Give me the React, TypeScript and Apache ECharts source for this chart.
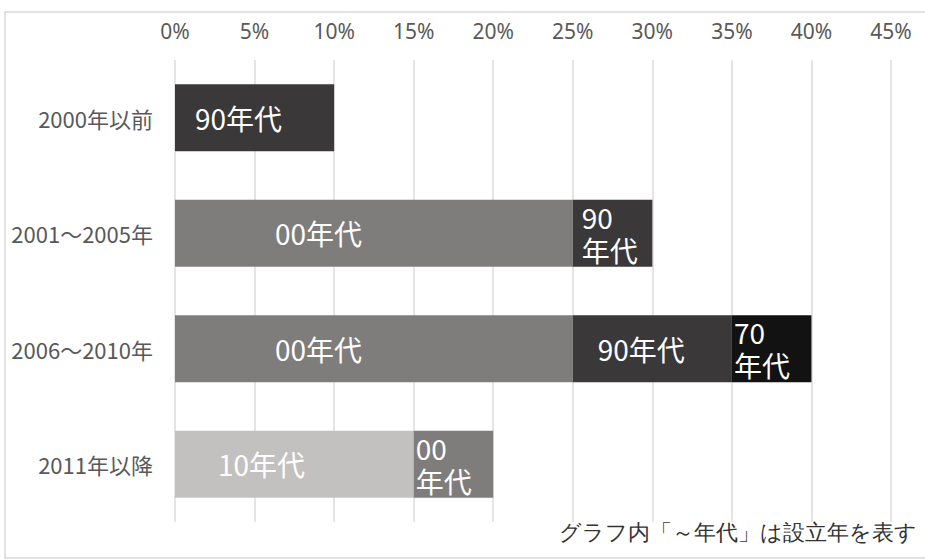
import React, { useEffect, useRef } from "react";
import * as echarts from "echarts";

const categories = ["2000年以前", "2001～2005年", "2006～2010年", "2011年以降"];
const seriesNames = ["10年代", "00年代", "90年代", "70年代"];
const values10s = [0, 0, 0, 15];
const values00s = [0, 25, 25, 5];
const values90s = [10, 5, 10, 0];
const values70s = [0, 0, 5, 0];
const xTicks = [0, 5, 10, 15, 20, 25, 30, 35, 40, 45];
const note = "グラフ内「～年代」は設立年を表す";

const colors = ["#c3c0c0", "#7f7c7c", "#3a3838", "#121212"];
// label distance from the segment's left edge, per series per category
const labelDistances = [
  [0, 0, 0, 43],
  [0, 100, 100, 2],
  [20, 9, 25, 0],
  [0, 0, 2, 0],
];

export default function App() {
  const ref = useRef<HTMLDivElement>(null);
  useEffect(() => {
    if (!ref.current) return;
    const chart = echarts.init(ref.current, undefined, { renderer: "svg" });
    const all = [values10s, values00s, values90s, values70s];
    const series = all.map((vals, si) => ({
      type: "bar",
      name: seriesNames[si],
      stack: "total",
      barWidth: 67,
      itemStyle: { color: colors[si] },
      data: vals.map((v, ci) =>
        v > 0
          ? {
              value: v,
              label: {
                show: true,
                position: "insideLeft",
                distance: labelDistances[si][ci],
                formatter: () => {
                  const n = seriesNames[si];
                  return v <= 5 ? n.slice(0, 2) + "\n" + n.slice(2) : n;
                },
              },
            }
          : "-"
      ),
      label: {
        color: "#ffffff",
        fontSize: 28,
        lineHeight: 33,
        fontFamily: "'Noto Sans CJK JP', 'Noto Sans', sans-serif",
      },
    }));
    chart.setOption({
      animation: false,
      backgroundColor: "#ffffff",
      grid: { left: 175, right: 34, top: 60, bottom: 37, containLabel: false },
      xAxis: {
        type: "value",
        position: "top",
        min: xTicks[0],
        max: xTicks[xTicks.length - 1],
        interval: xTicks[1] - xTicks[0],
        axisLine: { show: false },
        axisTick: { show: false },
        splitLine: { show: true, lineStyle: { color: "#dcdcdc", width: 1.5 } },
        axisLabel: {
          formatter: "{value}%",
          color: "#595959",
          fontSize: 21,
          margin: 19,
          fontFamily: "'Noto Sans', sans-serif",
        },
      },
      yAxis: {
        type: "category",
        inverse: true,
        data: categories,
        axisLine: { show: false },
        axisTick: { show: false },
        axisLabel: {
          color: "#595959",
          fontSize: 22,
          margin: 22,
          fontFamily: "'Noto Sans CJK JP', 'Noto Sans', sans-serif",
        },
      },
      series,
      graphic: [
        {
          type: "rect",
          shape: { x: 5, y: 12, width: 940, height: 546 },
          style: { fill: "none", stroke: "#d9d9d9", lineWidth: 1.5 },
          silent: true,
        },
        {
          type: "text",
          left: 559,
          top: 521,
          style: {
            text: note,
            fontSize: 22,
            fill: "#333333",
            fontFamily: "serif",
          },
        },
      ],
    });
    return () => chart.dispose();
  }, []);
  return (
    <div
      ref={ref}
      style={{ position: "absolute", left: 0, top: 0, width: 925, height: 559 }}
    />
  );
}
